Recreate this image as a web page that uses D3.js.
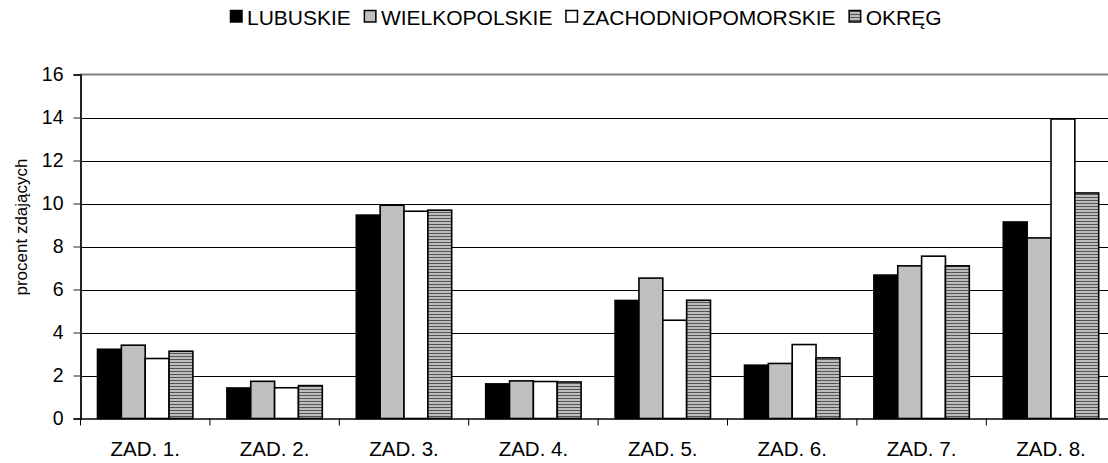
<!DOCTYPE html>
<html>
<head>
<meta charset="utf-8">
<script src="https://cdn.jsdelivr.net/npm/d3@7"></script>
<style>
  body { margin: 0; background: #fff; }
  text { font-family: "Liberation Sans", Arial, sans-serif; fill: #000; }
</style>
</head>
<body>
<div class="chart-area"></div>
<script>
// data
var categories = ["ZAD. 1.", "ZAD. 2.", "ZAD. 3.", "ZAD. 4.", "ZAD. 5.", "ZAD. 6.", "ZAD. 7.", "ZAD. 8."];
var seriesNames = ["LUBUSKIE", "WIELKOPOLSKIE", "ZACHODNIOPOMORSKIE", "OKRĘG"];
var lubuskie = [3.22, 1.42, 9.46, 1.61, 5.49, 2.48, 6.67, 9.14];
var wielkopolskie = [3.41, 1.73, 9.92, 1.75, 6.53, 2.56, 7.10, 8.40];
var zachodniopomorskie = [2.79, 1.43, 9.64, 1.72, 4.57, 3.44, 7.55, 13.93];
var okreg = [3.13, 1.53, 9.69, 1.70, 5.50, 2.82, 7.10, 10.49];
var yTicks = [0, 2, 4, 6, 8, 10, 12, 14, 16];

var seriesValues = [lubuskie, wielkopolskie, zachodniopomorskie, okreg];
var fills = ["#000000", "#c0c0c0", "#ffffff", "url(#hatch)"];

var width = 1108, height = 463;
var plotLeft = 80.5, step = 129.4, plotBottom = 418.5, plotTop = 74.5;

var svg = d3.select(".chart-area").append("svg")
    .attr("width", width)
    .attr("height", height);

// striped fill for the OKRĘG bars
var pat = svg.append("defs").append("pattern")
    .attr("id", "hatch")
    .attr("patternUnits", "userSpaceOnUse")
    .attr("width", 6)
    .attr("height", 3);
pat.append("rect").attr("width", 6).attr("height", 3).attr("fill", "#bdbdbd");
pat.append("rect").attr("y", 2).attr("width", 6).attr("height", 1).attr("fill", "#555555");

var x0 = d3.scaleBand()
    .domain(categories)
    .range([plotLeft, plotLeft + step * categories.length]);

var x1 = d3.scaleBand()
    .domain(seriesNames)
    .range([17, x0.bandwidth() - 17]);

var y = d3.scaleLinear()
    .domain([0, 16])
    .range([plotBottom, plotTop]);

// gridlines
svg.append("g").selectAll("line")
    .data(yTicks.filter(function(d) { return d > 0 && d < 16; }))
    .enter()
    .append("line")
    .attr("x1", plotLeft)
    .attr("x2", width)
    .attr("y1", function(d) { return Math.round(y(d)) + 0.5; })
    .attr("y2", function(d) { return Math.round(y(d)) + 0.5; })
    .attr("stroke", "#000")
    .attr("stroke-width", 1);

// top border of plot area
svg.append("line")
    .attr("x1", plotLeft)
    .attr("x2", width)
    .attr("y1", y(16))
    .attr("y2", y(16))
    .attr("stroke", "#808080")
    .attr("stroke-width", 2);

// bars
var rows = categories.map(function(c, i) {
    return seriesNames.map(function(s, j) {
        return { cat: c, name: s, value: seriesValues[j][i], j: j };
    });
});

svg.append("g").selectAll("g")
    .data(rows)
    .enter()
    .append("g")
    .attr("transform", function(d) { return "translate(" + x0(d[0].cat) + ",0)"; })
    .selectAll("rect")
    .data(function(d) { return d; })
    .enter()
    .append("rect")
    .attr("x", function(d) { return x1(d.name); })
    .attr("width", x1.bandwidth())
    .attr("y", function(d) { return y(d.value); })
    .attr("height", function(d) { return plotBottom - y(d.value); })
    .attr("fill", function(d) { return fills[d.j]; })
    .attr("stroke", "#000")
    .attr("stroke-width", 1.6);

// y axis
var yAxis = svg.append("g")
    .attr("transform", "translate(" + plotLeft + ",0)")
    .call(d3.axisLeft(y).tickValues(yTicks).tickSize(7).tickPadding(10).tickFormat(d3.format("d")));
yAxis.select(".domain").attr("stroke", "#222").attr("stroke-width", 2);
yAxis.selectAll(".tick line").attr("stroke", "#222");
yAxis.selectAll(".tick text")
    .style("font-family", "'Liberation Sans', Arial, sans-serif")
    .style("font-size", "19.5px");

// x axis
var xAxis = svg.append("g")
    .attr("transform", "translate(0," + plotBottom + ")")
    .call(d3.axisBottom(x0).tickSize(0).tickPadding(23));
xAxis.select(".domain").attr("stroke", "#000").attr("stroke-width", 1.5);
xAxis.selectAll(".tick text")
    .style("font-family", "'Liberation Sans', Arial, sans-serif")
    .style("font-size", "20.5px");

// category separators below axis
svg.append("g").selectAll("line")
    .data(categories)
    .enter()
    .append("line")
    .attr("x1", function(d) { return x0(d); })
    .attr("x2", function(d) { return x0(d); })
    .attr("y1", plotBottom)
    .attr("y2", plotBottom + 7)
    .attr("stroke", "#000");

// y axis title
svg.append("text")
    .attr("transform", "translate(27,227) rotate(-90)")
    .attr("text-anchor", "middle")
    .style("font-size", "17px")
    .text("procent zdających");

// legend
var legend = svg.append("g");
var lx = 230;
seriesNames.forEach(function(name, j) {
    legend.append("rect")
        .attr("x", lx + 0.5)
        .attr("y", 10.5)
        .attr("width", 11.5)
        .attr("height", 11.5)
        .attr("fill", fills[j])
        .attr("stroke", "#000")
        .attr("stroke-width", 1.5);
    var t = legend.append("text")
        .attr("x", lx + 17)
        .attr("y", 24.5)
        .style("font-size", "21px")
        .text(name);
    lx = lx + 17 + t.node().getComputedTextLength() + 13;
});
</script>
</body>
</html>
